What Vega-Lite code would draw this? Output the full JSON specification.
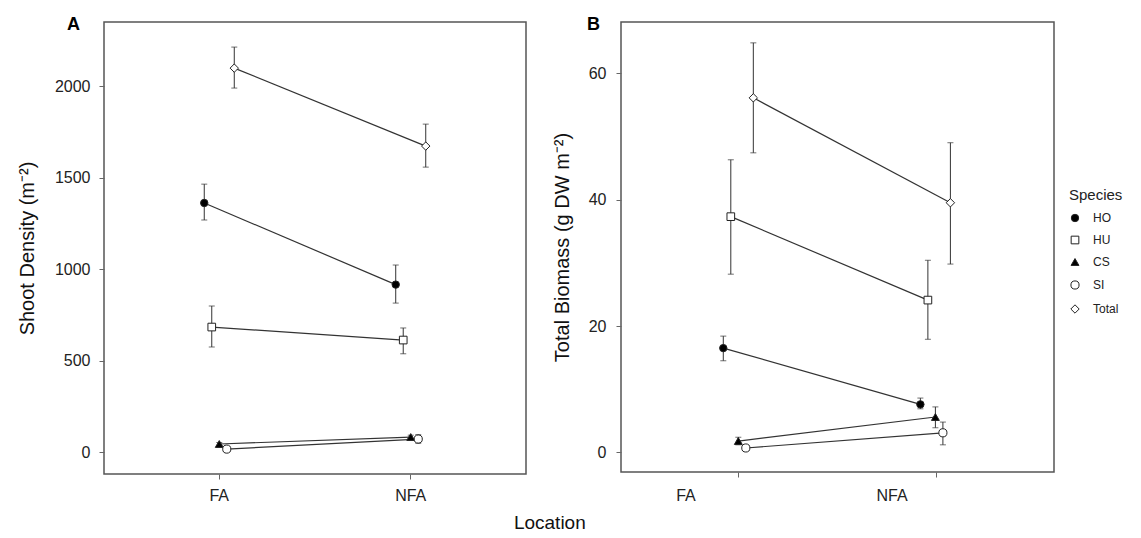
{
  "$schema": "https://vega.github.io/schema/vega-lite/v6.json",
  "background": "white",
  "padding": {"left": 16, "top": 15, "right": 0, "bottom": 0},
  "datasets": {
    "density": [
      {"location": "FA", "species": "HO", "mean": 1361, "lo": 1268, "hi": 1464},
      {"location": "FA", "species": "HU", "mean": 683, "lo": 574, "hi": 798},
      {"location": "FA", "species": "CS", "mean": 44, "lo": 36, "hi": 52},
      {"location": "FA", "species": "SI", "mean": 16, "lo": 9, "hi": 23},
      {"location": "FA", "species": "Total", "mean": 2098, "lo": 1989, "hi": 2213},
      {"location": "NFA", "species": "HO", "mean": 915, "lo": 814, "hi": 1022},
      {"location": "NFA", "species": "HU", "mean": 612, "lo": 537, "hi": 678},
      {"location": "NFA", "species": "CS", "mean": 82, "lo": 72, "hi": 92},
      {"location": "NFA", "species": "SI", "mean": 71, "lo": 48, "hi": 95},
      {"location": "NFA", "species": "Total", "mean": 1672, "lo": 1557, "hi": 1792}
    ],
    "biomass": [
      {"location": "FA", "species": "HO", "mean": 16.5, "lo": 14.5, "hi": 18.4},
      {"location": "FA", "species": "HU", "mean": 37.3, "lo": 28.2, "hi": 46.3},
      {"location": "FA", "species": "CS", "mean": 1.8, "lo": 1.2, "hi": 2.4},
      {"location": "FA", "species": "SI", "mean": 0.7, "lo": 0.4, "hi": 1.0},
      {"location": "FA", "species": "Total", "mean": 56.1, "lo": 47.4, "hi": 64.8},
      {"location": "NFA", "species": "HO", "mean": 7.6, "lo": 6.9, "hi": 8.6},
      {"location": "NFA", "species": "HU", "mean": 24.1, "lo": 17.9, "hi": 30.4},
      {"location": "NFA", "species": "CS", "mean": 5.6, "lo": 3.9, "hi": 7.2},
      {"location": "NFA", "species": "SI", "mean": 3.1, "lo": 1.2, "hi": 4.8},
      {"location": "NFA", "species": "Total", "mean": 39.5, "lo": 29.8, "hi": 49.0}
    ]
  },
  "config": {
    "font": "Liberation Sans",
    "view": {"stroke": "#555", "strokeWidth": 1.5},
    "axis": {
      "domain": false, "grid": false, "ticks": true,
      "tickColor": "#666", "tickSize": 5,
      "labelFontSize": 16, "labelColor": "#222",
      "titleFontSize": 20, "titleFontWeight": "normal", "titleColor": "#111"
    },
    "legend": {
      "orient": "none", "legendX": 965, "legendY": 166,
      "titleFontSize": 15, "titleFontWeight": "normal", "titleColor": "#222",
      "labelFontSize": 12, "labelColor": "#222", "rowPadding": 10,
      "symbolStrokeWidth": 1, "labelOffset": 12, "titlePadding": 9
    }
  },
  "title": {"text": "Location", "orient": "bottom", "anchor": "middle", "fontSize": 19, "fontWeight": "normal", "color": "#111", "offset": 10, "dx": -20},
  "spacing": 24,
  "hconcat": [
    {
      "width": 422,
      "height": 452,
      "title": {"text": "A", "anchor": "start", "frame": "group", "dx": -37, "dy": 16, "fontSize": 18, "fontWeight": "bold", "color": "#000"},
      "data": {"name": "density"},
      "encoding": {
        "x": {"field": "location", "type": "nominal", "scale": {"type": "band", "paddingInner": 0.804, "paddingOuter": 0.504}, "axis": {"title": null, "labelAngle": 0, "labelPadding": 8}},
        "xOffset": {"field": "species", "type": "nominal", "scale": {"domain": ["HO", "HU", "CS", "SI", "Total"]}},
        "y": {"field": "mean", "type": "quantitative", "title": "Shoot Density (m⁻²)", "scale": {"domain": [-120, 2350], "nice": false, "zero": false}, "axis": {"values": [0, 500, 1000, 1500, 2000], "format": "d", "labelPadding": 9, "titlePadding": 17}}
      },
      "layer": [
        {"mark": {"type": "line", "color": "#333", "strokeWidth": 1.2}, "encoding": {"detail": {"field": "species"}}},
        {"mark": {"type": "rule", "color": "#333", "strokeWidth": 1}, "encoding": {"y": {"field": "lo", "type": "quantitative", "title": "Shoot Density (m⁻²)"}, "y2": {"field": "hi"}}},
        {"mark": {"type": "tick", "color": "#333", "size": 6, "thickness": 1}, "encoding": {"y": {"field": "lo", "type": "quantitative", "title": "Shoot Density (m⁻²)"}}},
        {"mark": {"type": "tick", "color": "#333", "size": 6, "thickness": 1}, "encoding": {"y": {"field": "hi", "type": "quantitative", "title": "Shoot Density (m⁻²)"}}},
        {
          "mark": {"type": "point", "strokeWidth": 1, "opacity": 1, "fillOpacity": 1},
          "encoding": {
            "shape": {"field": "species", "type": "nominal", "title": "Species", "scale": {"domain": ["HO", "HU", "CS", "SI", "Total"], "range": ["circle", "square", "triangle-up", "circle", "diamond"]}},
            "fill": {"field": "species", "type": "nominal", "title": "Species", "scale": {"domain": ["HO", "HU", "CS", "SI", "Total"], "range": ["#000", "#fff", "#000", "#fff", "#fff"]}},
            "stroke": {"field": "species", "type": "nominal", "title": "Species", "scale": {"domain": ["HO", "HU", "CS", "SI", "Total"], "range": ["#222", "#222", "#222", "#222", "#222"]}},
            "size": {"field": "species", "type": "nominal", "title": "Species", "scale": {"domain": ["HO", "HU", "CS", "SI", "Total"], "range": [55, 70, 70, 38, 115]}}
          }
        }
      ]
    },
    {
      "width": 433,
      "height": 450,
      "title": {"text": "B", "anchor": "start", "frame": "group", "dx": -34, "dy": 16, "fontSize": 18, "fontWeight": "bold", "color": "#000"},
      "data": {"name": "biomass"},
      "encoding": {
        "x": {"field": "location", "type": "nominal", "scale": {"type": "band", "paddingInner": 0.803, "paddingOuter": 0.5}, "axis": {"title": null, "labelAngle": 0, "labelPadding": 10, "labelOffset": {"condition": {"test": "datum.value === 'FA'", "value": -53}, "value": -44}}},
        "xOffset": {"field": "species", "type": "nominal", "scale": {"domain": ["HO", "HU", "CS", "SI", "Total"]}},
        "y": {"field": "mean", "type": "quantitative", "title": "Total Biomass (g DW m⁻²)", "scale": {"domain": [-3.1, 68.1], "nice": false, "zero": false}, "axis": {"values": [0, 20, 40, 60], "labelPadding": 10, "titlePadding": 16}}
      },
      "layer": [
        {"mark": {"type": "line", "color": "#333", "strokeWidth": 1.2}, "encoding": {"detail": {"field": "species"}}},
        {"mark": {"type": "rule", "color": "#333", "strokeWidth": 1}, "encoding": {"y": {"field": "lo", "type": "quantitative", "title": "Total Biomass (g DW m⁻²)"}, "y2": {"field": "hi"}}},
        {"mark": {"type": "tick", "color": "#333", "size": 6, "thickness": 1}, "encoding": {"y": {"field": "lo", "type": "quantitative", "title": "Total Biomass (g DW m⁻²)"}}},
        {"mark": {"type": "tick", "color": "#333", "size": 6, "thickness": 1}, "encoding": {"y": {"field": "hi", "type": "quantitative", "title": "Total Biomass (g DW m⁻²)"}}},
        {
          "mark": {"type": "point", "strokeWidth": 1, "opacity": 1, "fillOpacity": 1},
          "encoding": {
            "shape": {"field": "species", "type": "nominal", "title": "Species", "scale": {"domain": ["HO", "HU", "CS", "SI", "Total"], "range": ["circle", "square", "triangle-up", "circle", "diamond"]}},
            "fill": {"field": "species", "type": "nominal", "title": "Species", "scale": {"domain": ["HO", "HU", "CS", "SI", "Total"], "range": ["#000", "#fff", "#000", "#fff", "#fff"]}},
            "stroke": {"field": "species", "type": "nominal", "title": "Species", "scale": {"domain": ["HO", "HU", "CS", "SI", "Total"], "range": ["#222", "#222", "#222", "#222", "#222"]}},
            "size": {"field": "species", "type": "nominal", "title": "Species", "scale": {"domain": ["HO", "HU", "CS", "SI", "Total"], "range": [55, 70, 70, 38, 115]}}
          }
        }
      ]
    }
  ]
}
